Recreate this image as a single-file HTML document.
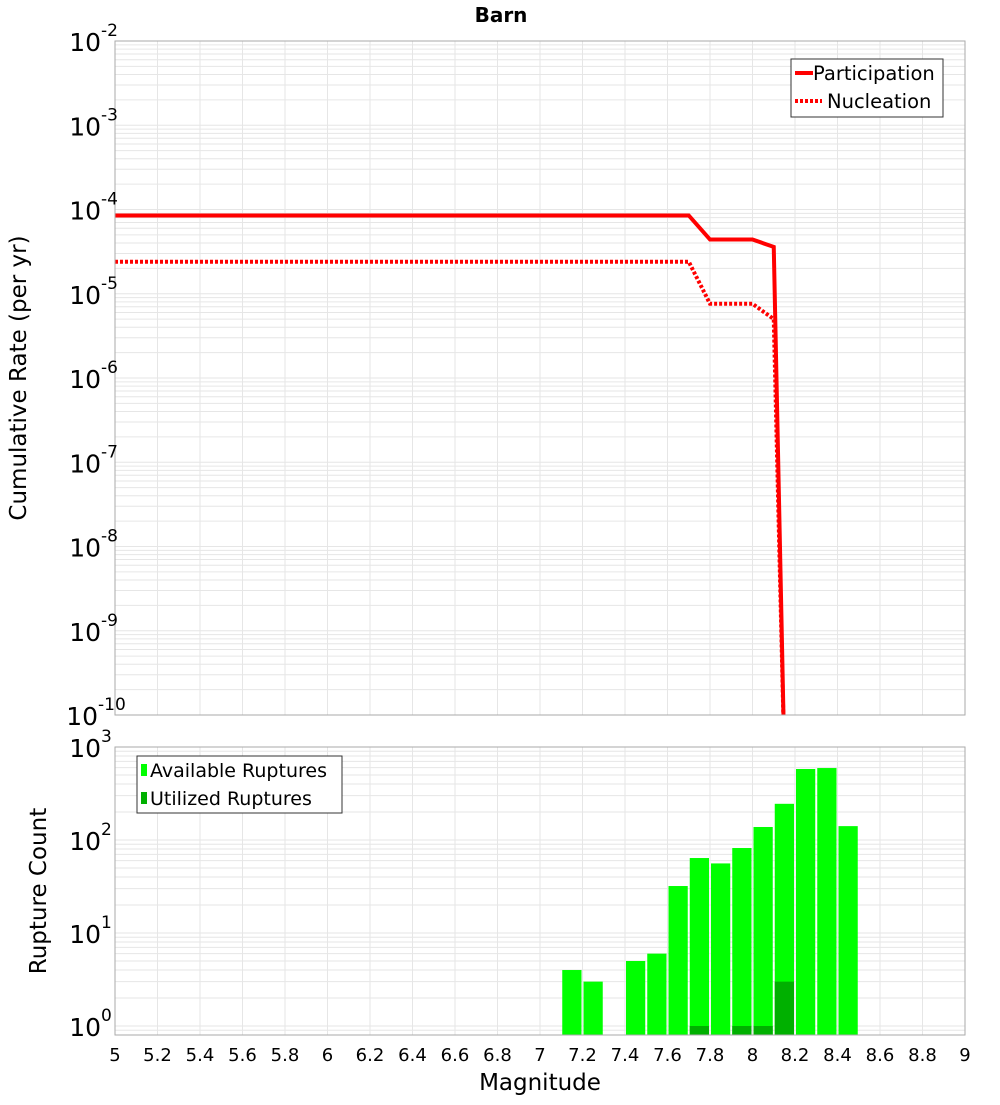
<!DOCTYPE html>
<html><head><meta charset="utf-8"><style>
body{margin:0;background:#fff}
svg text{font-family:"DejaVu Sans","Liberation Sans",sans-serif}
</style></head><body>
<svg id="c" width="1000" height="1100" xmlns="http://www.w3.org/2000/svg">
<text x="501" y="22" text-anchor="middle" font-size="20" font-weight="bold">Barn</text>
<text transform="translate(26,378) rotate(-90)" text-anchor="middle" font-size="23">Cumulative Rate (per yr)</text>
<text transform="translate(46,891) rotate(-90)" text-anchor="middle" font-size="23">Rupture Count</text>
<text x="540" y="1090" text-anchor="middle" font-size="23">Magnitude</text>
<g id="topg"></g>
<g id="botg"></g>
</svg>
<script>
const rateMags=[5,7.7,7.8,8.0,8.1,8.15];
const participation=[8.5e-5,8.5e-5,4.4e-5,4.4e-5,3.6e-5,3e-11];
const nucleation=[2.4e-5,2.4e-5,7.6e-6,7.6e-6,5.0e-6,3e-11];
const binCenters=[7.15,7.25,7.45,7.55,7.65,7.75,7.85,7.95,8.05,8.15,8.25,8.35,8.45];
const available=[4,3,5,6,32,64,56,82,138,245,580,594,141];
const utilizedMags=[7.75,7.95,8.05,8.15];
const utilized=[1,1,1,3];
const xTicks=[5,5.2,5.4,5.6,5.8,6,6.2,6.4,6.6,6.8,7,7.2,7.4,7.6,7.8,8,8.2,8.4,8.6,8.8,9];
const topDecades=[-2,-3,-4,-5,-6,-7,-8,-9,-10];
const botDecades=[0,1,2,3];

const NS='http://www.w3.org/2000/svg';
const L=115,R=965;
const xs_=m=>L+(m-5)*(R-L)/4;
const T0=41,T1=715;
const yT=v=>T0+(-2-Math.log10(v))*(T1-T0)/8;
const B0=747,B1=1035;
const yB=v=>1026-Math.log10(v)*93;
function el(p,t,a){const e=document.createElementNS(NS,t);for(const k in a)e.setAttribute(k,a[k]);p.appendChild(e);return e;}
const svg=document.getElementById('c');
const defs=el(svg,'defs',{});
const cp1=el(defs,'clipPath',{id:'ct'});el(cp1,'rect',{x:L,y:T0,width:R-L,height:T1-T0});
const cp2=el(defs,'clipPath',{id:'cb'});el(cp2,'rect',{x:L,y:B0,width:R-L,height:B1-B0});
const topG=document.getElementById('topg'),botG=document.getElementById('botg');

function grid(g,y0,y1,yf,lo,hi,clip){
  const gg=el(g,'g',{'clip-path':clip});
  
  
  for(const m of xTicks){el(gg,'line',{x1:xs_(m),x2:xs_(m),y1:y0,y2:y1,stroke:'#e6e6e6','stroke-width':1});}
  for(let d=lo;d<=hi;d++)for(let k=1;k<10;k++){const yy=yf(k*Math.pow(10,d));if(yy>=y0&&yy<=y1)el(gg,'line',{x1:L,x2:R,y1:yy,y2:yy,stroke:'#e6e6e6','stroke-width':1});}
}
grid(topG,T0,T1,yT,-11,-3,'url(#ct)');
grid(botG,B0,B1,yB,-1,2,'url(#cb)');

function poly(g,xs,ys,yf,dash,name){
  const p=el(g,'polyline',{points:xs.map((m,i)=>xs_(m)+','+yf(ys[i])).join(' '),fill:'none',stroke:'#ff0000','stroke-width':4,'clip-path':'url(#ct)'});
  if(dash)p.setAttribute('stroke-dasharray','3,2');
  
  
}
poly(topG,rateMags,participation,yT,false,'participation-line');
poly(topG,rateMags,nucleation,yT,true,'nucleation-line');

const bw=(R-L)/4*0.1;
binCenters.forEach((m,i)=>{const yy=yB(available[i]);
  const r=el(botG,'rect',{x:xs_(m)-bw/2+1,y:yy,width:bw-2,height:B1-yy,fill:'#00ff00','clip-path':'url(#cb)'});
  
  });
utilizedMags.forEach((m,i)=>{const yy=yB(utilized[i]);
  const r=el(botG,'rect',{x:xs_(m)-bw/2+1,y:yy,width:bw-2,height:B1-yy,fill:'#00b000','clip-path':'url(#cb)'});
  
  });

el(topG,'rect',{x:L,y:T0,width:R-L,height:T1-T0,fill:'none',stroke:'#aaa','stroke-width':1});
el(botG,'rect',{x:L,y:B0,width:R-L,height:B1-B0,fill:'none',stroke:'#aaa','stroke-width':1});

function ylab(g,yy,e,name){
  const ex=e.length>=3?98:101;
  const t=el(g,'text',{x:ex,y:yy+10,'text-anchor':'end','font-size':25});
  t.textContent='10';
  
  
  const s=el(g,'text',{x:ex,y:yy-5,'text-anchor':'start','font-size':17});
  s.textContent=e;
  
  
}
topDecades.forEach(d=>ylab(topG,yT(Math.pow(10,d)),String(d),'top-y-tick-label'));
botDecades.forEach(d=>ylab(botG,yB(Math.pow(10,d)),String(d),'bottom-y-tick-label'));

xTicks.forEach(m=>{const t=el(botG,'text',{x:xs_(m),y:1061,'text-anchor':'middle','font-size':18});
  t.textContent=String(m);
  
  });

const lg1=el(topG,'g',{});


el(lg1,'rect',{x:791,y:59,width:152,height:58,fill:'#fff',stroke:'#333','stroke-width':1});
el(lg1,'line',{x1:795,x2:813,y1:73,y2:73,stroke:'#f00','stroke-width':4});
el(lg1,'line',{x1:795,x2:822,y1:101,y2:101,stroke:'#f00','stroke-width':4,'stroke-dasharray':'3,2'});
let t=el(lg1,'text',{x:813,y:80,'font-size':19.5});t.textContent='Participation';

t=el(lg1,'text',{x:827,y:108,'font-size':19.5});t.textContent='Nucleation';


const lg2=el(botG,'g',{});


el(lg2,'rect',{x:137,y:756,width:205,height:57,fill:'#fff',stroke:'#333','stroke-width':1});
el(lg2,'rect',{x:141,y:764,width:6,height:12,fill:'#00ff00'});
el(lg2,'rect',{x:141,y:792,width:6,height:12,fill:'#00b000'});
t=el(lg2,'text',{x:150,y:777,'font-size':19});t.textContent='Available Ruptures';

t=el(lg2,'text',{x:150,y:805,'font-size':19});t.textContent='Utilized Ruptures';

</script>
</body></html>
